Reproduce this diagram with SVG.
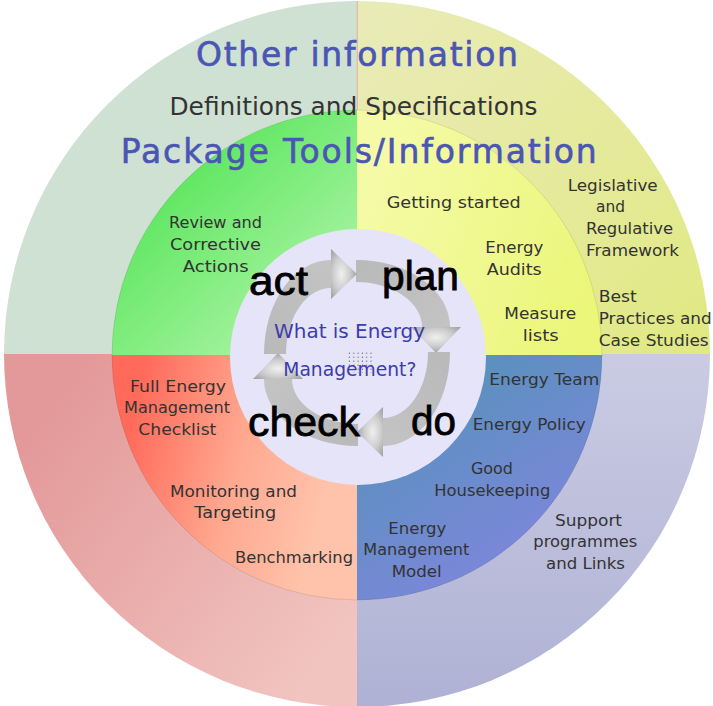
<svg xmlns="http://www.w3.org/2000/svg" width="713" height="706" viewBox="0 0 713 706">
<defs>
  <linearGradient id="gOutTR" gradientUnits="userSpaceOnUse" x1="380" y1="20" x2="690" y2="330">
    <stop offset="0" stop-color="#e9ebb6"/><stop offset="1" stop-color="#e1e985"/>
  </linearGradient>
  <linearGradient id="gOutBL" gradientUnits="userSpaceOnUse" x1="40" y1="420" x2="340" y2="640">
    <stop offset="0" stop-color="#e39999"/><stop offset="1" stop-color="#f1c4c0"/>
  </linearGradient>
  <linearGradient id="gOutBR" gradientUnits="userSpaceOnUse" x1="0" y1="360" x2="0" y2="700">
    <stop offset="0" stop-color="#cacbe3"/><stop offset="1" stop-color="#afb2d4"/>
  </linearGradient>
  <linearGradient id="gInTL" gradientUnits="userSpaceOnUse" x1="170" y1="170" x2="330" y2="340">
    <stop offset="0" stop-color="#5ce65e"/><stop offset="1" stop-color="#b5f6ad"/>
  </linearGradient>
  <linearGradient id="gInTR" gradientUnits="userSpaceOnUse" x1="370" y1="200" x2="590" y2="280">
    <stop offset="0" stop-color="#f5faa6"/><stop offset="1" stop-color="#ebf67a"/>
  </linearGradient>
  <linearGradient id="gInBL" gradientUnits="userSpaceOnUse" x1="130" y1="420" x2="330" y2="470">
    <stop offset="0" stop-color="#ff6a5a"/><stop offset="0.55" stop-color="#ffa890"/><stop offset="1" stop-color="#ffc2aa"/>
  </linearGradient>
  <linearGradient id="gInBR" gradientUnits="userSpaceOnUse" x1="370" y1="360" x2="500" y2="560">
    <stop offset="0" stop-color="#4f94b5"/><stop offset="1" stop-color="#7b87d9"/>
  </linearGradient>
  <radialGradient id="gHead" cx="0.5" cy="0.4" r="0.6">
    <stop offset="0" stop-color="#f0f0f0"/><stop offset="0.55" stop-color="#cdcdcd"/><stop offset="1" stop-color="#a2a2a2"/>
  </radialGradient>
  <linearGradient id="gBody" gradientUnits="userSpaceOnUse" x1="356" y1="260" x2="440" y2="330">
    <stop offset="0" stop-color="#b9b9b9"/><stop offset="1" stop-color="#c3c3c3"/>
  </linearGradient>
  <pattern id="dots" width="4.3" height="4" patternUnits="userSpaceOnUse">
    <circle cx="1.2" cy="1.2" r="0.6" fill="#555"/>
  </pattern>
  <g id="cycArrow">
    <path d="M356,260 A94,67 0 0 1 450,327 L422,327 A66,45 0 0 0 356,282 Z" fill="url(#gBody)"/>
    <polygon points="411,327 461,327 436,353" fill="url(#gHead)"/>
  </g>
</defs>
<style>
  .lbl{font-family:"DejaVu Sans","Verdana",sans-serif;font-size:16px;fill:#333333;}
  .head{font-family:"DejaVu Sans","Verdana",sans-serif;font-size:33px;fill:#4b55b4;stroke:#4b55b4;stroke-width:0.6;}
  .sub{font-family:"DejaVu Sans","Verdana",sans-serif;font-size:24px;fill:#333333;}
  .big{font-family:"Liberation Sans",Arial,sans-serif;font-size:41px;fill:#000;stroke:#000;stroke-width:0.8;}
  .q{font-family:"DejaVu Sans","Verdana",sans-serif;font-size:19px;fill:#3c3cac;}
</style>

<g id="outer-ring">
  <path d="M357,354 L4,354 A353,353 0 0 1 357,1 Z" fill="#cee1d3"/>
  <path d="M357,354 L357,1 A353,353 0 0 1 710,354 Z" fill="url(#gOutTR)"/>
  <path d="M357,354 L710,354 A353,353 0 0 1 357,707 Z" fill="url(#gOutBR)"/>
  <path d="M357,354 L357,707 A353,353 0 0 1 4,354 Z" fill="url(#gOutBL)"/>
  <line x1="357.3" y1="1" x2="357.3" y2="111" stroke="#e6a090" stroke-width="0.8"/>
</g>
<g id="inner-ring">
  <path d="M357,355 L112,355 A245,245 0 0 1 357,110 Z" fill="url(#gInTL)"/>
  <path d="M357,355 L357,110 A245,245 0 0 1 602,355 Z" fill="url(#gInTR)"/>
  <path d="M357,355 L602,355 A245,245 0 0 1 357,600 Z" fill="url(#gInBR)"/>
  <path d="M357,355 L357,600 A245,245 0 0 1 112,355 Z" fill="url(#gInBL)"/>
  <circle cx="357" cy="355" r="245" fill="none" stroke="#000" stroke-opacity="0.12" stroke-width="0.8"/>
</g>
<g id="center">
  <circle cx="358" cy="357" r="128" fill="#e6e4f8"/>
</g>

<g id="connectors">
  <use href="#cycArrow"/>
  <use href="#cycArrow" transform="rotate(90 357 353)"/>
  <use href="#cycArrow" transform="rotate(180 357 353)"/>
  <use href="#cycArrow" transform="rotate(270 357 353)"/>
</g>

<g id="node-other-information"><text class="head" x="196" y="66" textLength="322" lengthAdjust="spacing">Other information</text></g>
<g id="node-definitions"><text class="sub" x="169.5" y="115" textLength="368" lengthAdjust="spacingAndGlyphs">Definitions and Specifications</text></g>
<g id="node-package-tools"><text class="head" x="120.7" y="163" textLength="476" lengthAdjust="spacing">Package Tools/Information</text></g>

<g id="node-review">
  <text class="lbl" x="169" y="228" textLength="93" lengthAdjust="spacingAndGlyphs">Review and</text>
  <text class="lbl" x="170" y="250" textLength="91" lengthAdjust="spacingAndGlyphs">Corrective</text>
  <text class="lbl" x="182.7" y="272" textLength="66" lengthAdjust="spacingAndGlyphs">Actions</text>
</g>
<g id="node-getting-started">
  <text class="lbl" x="386.7" y="208" textLength="134" lengthAdjust="spacingAndGlyphs">Getting started</text>
</g>
<g id="node-energy-audits">
  <text class="lbl" x="485.3" y="253" textLength="58" lengthAdjust="spacingAndGlyphs">Energy</text>
  <text class="lbl" x="486.7" y="274.5" textLength="55" lengthAdjust="spacingAndGlyphs">Audits</text>
</g>
<g id="node-measure-lists">
  <text class="lbl" x="504.3" y="319.3" textLength="72" lengthAdjust="spacingAndGlyphs">Measure</text>
  <text class="lbl" x="522.7" y="340.7" textLength="36" lengthAdjust="spacingAndGlyphs">lists</text>
</g>
<g id="node-legislative">
  <text class="lbl" x="567.7" y="190.7" textLength="90" lengthAdjust="spacingAndGlyphs">Legislative</text>
  <text class="lbl" x="596" y="212" textLength="29" lengthAdjust="spacingAndGlyphs">and</text>
  <text class="lbl" x="586" y="234.3" textLength="87" lengthAdjust="spacingAndGlyphs">Regulative</text>
  <text class="lbl" x="586" y="256" textLength="93" lengthAdjust="spacingAndGlyphs">Framework</text>
</g>
<g id="node-best-practices">
  <text class="lbl" x="598.7" y="301.7" textLength="38" lengthAdjust="spacingAndGlyphs">Best</text>
  <text class="lbl" x="598.7" y="324" textLength="113" lengthAdjust="spacingAndGlyphs">Practices and</text>
  <text class="lbl" x="598.7" y="345.7" textLength="110" lengthAdjust="spacingAndGlyphs">Case Studies</text>
</g>
<g id="node-energy-team">
  <text class="lbl" x="489.3" y="385" textLength="110" lengthAdjust="spacingAndGlyphs">Energy Team</text>
</g>
<g id="node-energy-policy">
  <text class="lbl" x="472.7" y="430" textLength="113" lengthAdjust="spacingAndGlyphs">Energy Policy</text>
</g>
<g id="node-good-housekeeping">
  <text class="lbl" x="471" y="474" textLength="42" lengthAdjust="spacingAndGlyphs">Good</text>
  <text class="lbl" x="434.3" y="496" textLength="116" lengthAdjust="spacingAndGlyphs">Housekeeping</text>
</g>
<g id="node-energy-management-model">
  <text class="lbl" x="388.3" y="534" textLength="58" lengthAdjust="spacingAndGlyphs">Energy</text>
  <text class="lbl" x="363.3" y="555" textLength="106" lengthAdjust="spacingAndGlyphs">Management</text>
  <text class="lbl" x="391.7" y="576.7" textLength="50" lengthAdjust="spacingAndGlyphs">Model</text>
</g>
<g id="node-support">
  <text class="lbl" x="555" y="526" textLength="67" lengthAdjust="spacingAndGlyphs">Support</text>
  <text class="lbl" x="533.3" y="547.3" textLength="104" lengthAdjust="spacingAndGlyphs">programmes</text>
  <text class="lbl" x="546" y="569" textLength="79" lengthAdjust="spacingAndGlyphs">and Links</text>
</g>
<g id="node-full-checklist">
  <text class="lbl" x="130" y="391.7" textLength="96" lengthAdjust="spacingAndGlyphs">Full Energy</text>
  <text class="lbl" x="124" y="413.3" textLength="106" lengthAdjust="spacingAndGlyphs">Management</text>
  <text class="lbl" x="138.3" y="435" textLength="78" lengthAdjust="spacingAndGlyphs">Checklist</text>
</g>
<g id="node-monitoring">
  <text class="lbl" x="170" y="496.7" textLength="127" lengthAdjust="spacingAndGlyphs">Monitoring and</text>
  <text class="lbl" x="194.3" y="518.3" textLength="82" lengthAdjust="spacingAndGlyphs">Targeting</text>
</g>
<g id="node-benchmarking">
  <text class="lbl" x="235" y="563.3" textLength="118" lengthAdjust="spacingAndGlyphs">Benchmarking</text>
</g>

<g id="node-question">
  <text class="q" x="274" y="337.5" textLength="151" lengthAdjust="spacingAndGlyphs">What is Energy</text>
  <text class="q" x="283.3" y="376" textLength="133" lengthAdjust="spacingAndGlyphs">Management?</text>
</g>
<g id="node-act"><text class="big" x="249" y="295" textLength="59" lengthAdjust="spacingAndGlyphs">act</text></g>
<g id="node-plan"><text class="big" x="382" y="290" textLength="77" lengthAdjust="spacingAndGlyphs">plan</text></g>
<g id="node-do"><text class="big" x="411" y="435" textLength="45" lengthAdjust="spacingAndGlyphs">do</text></g>
<g id="node-check"><text class="big" x="248" y="436" textLength="112" lengthAdjust="spacingAndGlyphs">check</text></g>

<rect x="347" y="351" width="25" height="22" fill="url(#dots)"/>
</svg>
